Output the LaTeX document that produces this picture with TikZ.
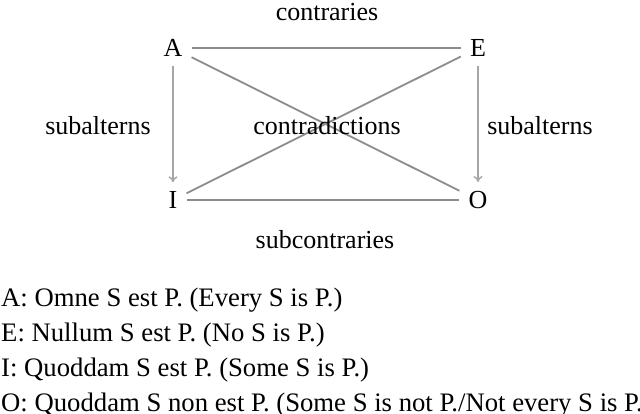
\documentclass[tikz,border=0pt]{standalone}
\usepackage{fontspec}
\setmainfont{Liberation Serif}
\usetikzlibrary{arrows.meta}
\begin{document}
\begin{tikzpicture}[x=1pt,y=1pt,
  every node/.style={font=\fontsize{26}{30}\selectfont},
  corner/.style={inner sep=9pt},
  lbl/.style={inner sep=0pt},
  listline/.style={anchor=base west, inner sep=0pt, font=\fontsize{26.7}{30}\selectfont},
  hline/.style={draw=gray!90, line width=2.7pt},
  diag/.style={draw=gray!90, line width=1.8pt},
  sub/.style={draw=gray!70, line width=1.4pt, -{To[length=6pt,width=9pt]}}]
\useasboundingbox (0,0) rectangle (640,414);
\node[corner] (A) at (173,366) {A};
\node[corner] (E) at (478,366) {E};
\node[corner] (I) at (173,214) {I};
\node[corner] (O) at (478,214) {O};
\draw[hline] (A) -- (E);
\draw[hline] (I) -- (O);
\draw[diag] (A) -- (O);
\draw[diag] (E) -- (I);
\draw[sub] (A) -- (I);
\draw[sub] (E) -- (O);
\node[lbl] (contr) at (327,402) {contraries};
\node[lbl] (subl) at (98,288) {subalterns};
\node[lbl] (contd) at (327,288) {contradictions};
\node[lbl] (subr) at (540,288) {subalterns};
\node[lbl] (subc) at (325,174) {subcontraries};
\node[listline] (l1) at (1,107) {A: Omne S est P. (Every S is P.)};
\node[listline] (l2) at (1,72) {E: Nullum S est P. (No S is P.)};
\node[listline] (l3) at (1,37) {I: Quoddam S est P. (Some S is P.)};
\node[listline] (l4) at (1,2) {O: Quoddam S non est P. (Some S is not P./Not every S is P.)};
\end{tikzpicture}
\end{document}
